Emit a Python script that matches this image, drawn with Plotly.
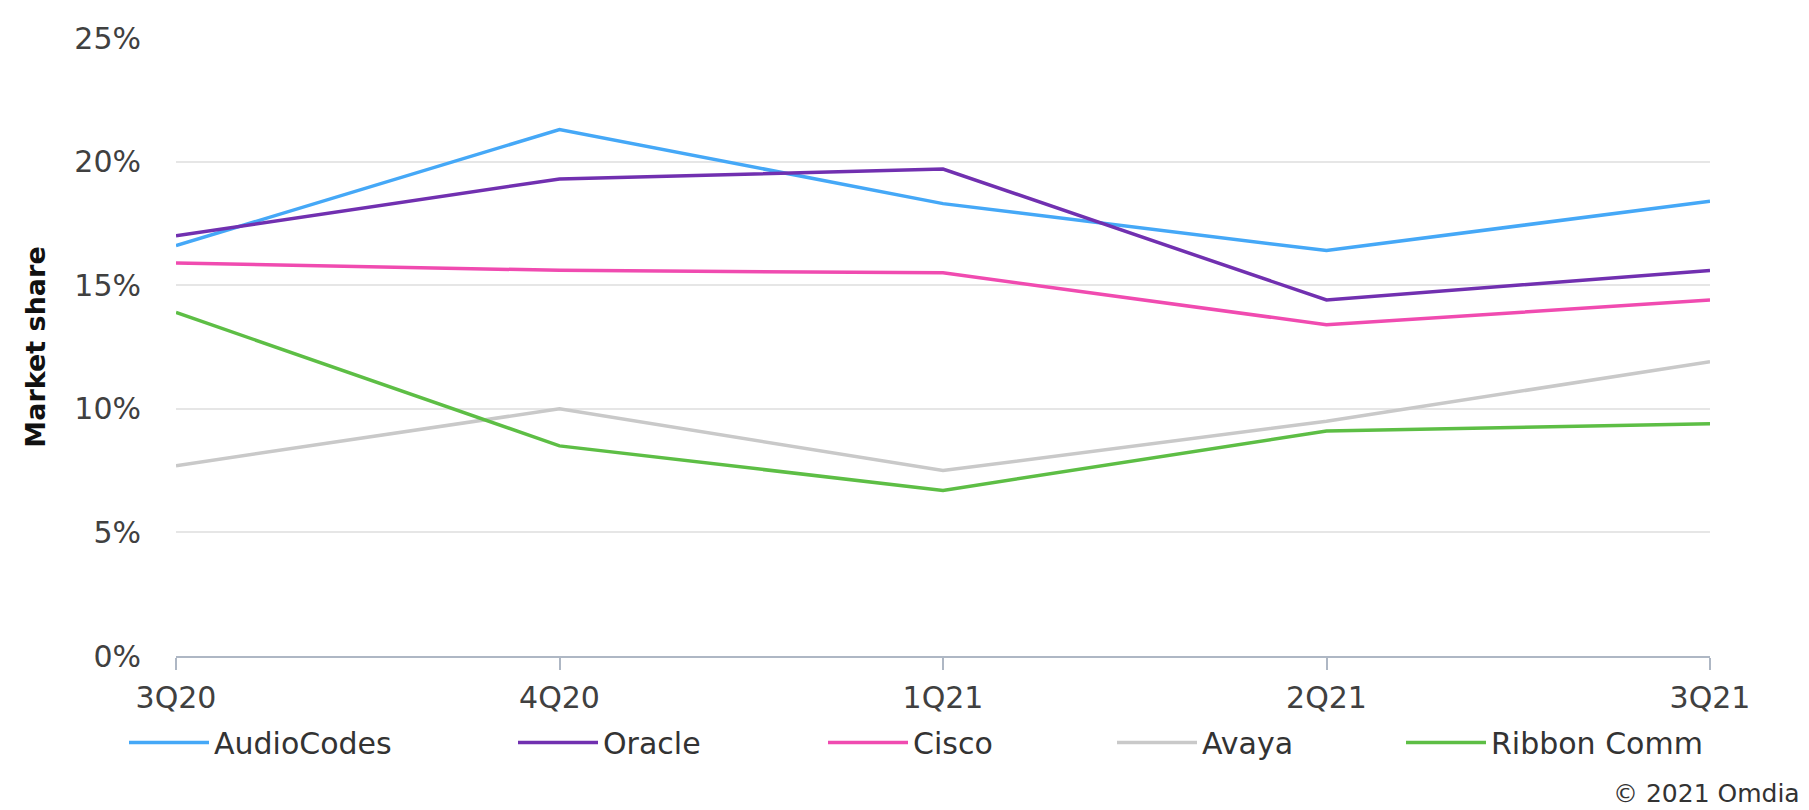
import plotly.graph_objects as go

quarters = ["3Q20", "4Q20", "1Q21", "2Q21", "3Q21"]
audiocodes = [16.6, 21.3, 18.3, 16.4, 18.4]
oracle = [17.0, 19.3, 19.7, 14.4, 15.6]
cisco = [15.9, 15.6, 15.5, 13.4, 14.4]
avaya = [7.7, 10.0, 7.5, 9.5, 11.9]
ribbon = [13.9, 8.5, 6.7, 9.1, 9.4]

series_names = ["AudioCodes", "Oracle", "Cisco", "Avaya", "Ribbon Comm"]
series_values = [audiocodes, oracle, cisco, avaya, ribbon]
series_colors = ["#45A8F7", "#7130B0", "#F04BB0", "#C9C9C9", "#5DBE45"]

# page has an 8px body margin; figure is sized to fit the 1809x810 window
OFF = 8
W, H = 1809 - OFF, 810 - OFF
L, T = 176 - OFF, 27 - OFF
plot_w = 1534
plot_h = 629
R = W - L - plot_w
B = H - T - plot_h

# legend text start positions (page px) from the reference
legend_text_x = [214, 603, 913, 1202, 1491]
legend_y_px = 744 - OFF
ITEMW = 80

FONT = "DejaVu Sans"

fig = go.Figure()
for i, (name, vals, col) in enumerate(zip(series_names, series_values, series_colors)):
    lname = "legend" if i == 0 else f"legend{i+1}"
    fig.add_trace(go.Scatter(
        x=quarters, y=vals, name=name, mode="lines",
        line=dict(color=col, width=3.5),
        legend=lname,
    ))

layout_legends = {}
for i, tx in enumerate(legend_text_x):
    lname = "legend" if i == 0 else f"legend{i+1}"
    layout_legends[lname] = dict(
        x=(tx - OFF - (ITEMW + 10) - L) / plot_w,
        xanchor="left",
        y=(H - B - legend_y_px) / plot_h,
        yanchor="middle",
        orientation="h",
        itemwidth=ITEMW,
        bgcolor="rgba(0,0,0,0)",
        font=dict(family=FONT, size=30, color="#333333"),
    )

fig.update_layout(
    width=W, height=H,
    margin=dict(l=L, r=R, t=T, b=B),
    paper_bgcolor="white",
    plot_bgcolor="white",
    showlegend=True,
    **layout_legends,
    xaxis=dict(
        type="category",
        range=[0, 4],
        showgrid=False,
        showline=True,
        linecolor="#AEB7C4",
        linewidth=2,
        ticks="outside",
        ticklen=12,
        tickwidth=1.5,
        tickcolor="#AEB7C4",
        ticklabelstandoff=2,
        tickfont=dict(family=FONT, size=30, color="#404040"),
        zeroline=False,
    ),
    yaxis=dict(
        range=[0, 25],
        dtick=5,
        ticksuffix="%",
        showgrid=True,
        gridcolor="#E6E6E6",
        gridwidth=2,
        zeroline=False,
        showline=False,
        ticklabelstandoff=34,
        tickfont=dict(family=FONT, size=30, color="#404040"),
        title=dict(text="<b>Market share</b>",
                   font=dict(family=FONT, size=27, color="#111111"),
                   standoff=20),
    ),
    annotations=[dict(
        text="© 2021 Omdia",
        xref="paper", yref="paper",
        x=(1802 - OFF - L) / plot_w, xanchor="right",
        y=(H - B - (796 - OFF)) / plot_h, yanchor="middle",
        showarrow=False,
        font=dict(family=FONT, size=25, color="#333333"),
    )],
)

fig.write_html("out.html")
